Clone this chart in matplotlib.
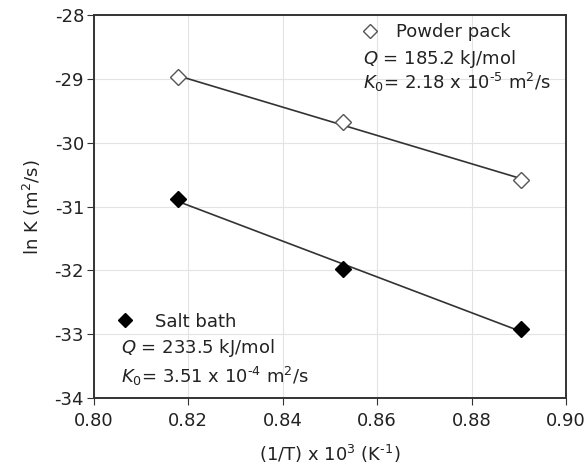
import numpy as np
import matplotlib.pyplot as plt

plt.rcParams['font.family'] = ['DejaVu Sans']
plt.rcParams['axes.unicode_minus'] = False

inv_t = [0.8178, 0.8527, 0.8904]
powder_lnk = [-28.97, -29.68, -30.58]
salt_lnk = [-30.88, -31.97, -32.92]

fig = plt.figure(figsize=(5.86, 4.75), dpi=100)
ax = fig.add_axes([0.160, 0.162, 0.806, 0.806])

for y, face in [(powder_lnk, 'white'), (salt_lnk, 'black')]:
    k, b = np.polyfit(inv_t, y, 1)
    xs = np.array([inv_t[0], inv_t[-1]])
    ax.plot(xs, k * xs + b, color='#333333', lw=1.2, zorder=2)
    ax.plot(inv_t, y, 'D', ms=8, mfc=face, mec='black' if face == 'black' else '#555555',
            mew=1.0, ls='none', zorder=3)

ax.set_xlim(0.80, 0.90)
ax.set_ylim(-34, -28)
ax.set_xticks(np.arange(0.80, 0.9001, 0.02))
ax.set_xticklabels(['0.80', '0.82', '0.84', '0.86', '0.88', '0.90'])
ax.set_yticks(range(-34, -27))
ax.grid(True, color='#e3e3e3', lw=0.8)
ax.set_axisbelow(True)
ax.tick_params(labelsize=13, direction='out', length=5, color='#333333', colors='#222222')
ax.tick_params(axis='x', pad=5)
ax.tick_params(axis='y', pad=2)
for s in ax.spines.values():
    s.set_color('#333333')
    s.set_linewidth(1.4)

ax.set_xlabel('(1/T) x 10$^3$ (K$^{\\text{-}1}$)', fontsize=13, labelpad=9, color='#222222')
ax.set_ylabel('ln K (m$^2$/s)', fontsize=13, labelpad=8, color='#222222')

fs = 13
# powder pack annotation
ax.plot([0.8585], [-28.245], 'D', ms=7, mfc='white', mec='#555555', mew=1.0, clip_on=False)
ax.text(0.8640, -28.345, 'Powder pack', fontsize=fs, va='baseline', color='#222222')
ax.text(0.8570, -28.76, '$Q$ = 185.2 kJ/mol', fontsize=fs, va='baseline', color='#222222')
ax.text(0.8570, -29.16, '$K_0$= 2.18 x 10$^{\\text{-}5}$ m$^2$/s', fontsize=fs, va='baseline', color='#222222')

# salt bath annotation
ax.plot([0.8066], [-32.778], 'D', ms=7, mfc='black', mec='black', mew=1.0)
ax.text(0.8129, -32.888, 'Salt bath', fontsize=fs, va='baseline', color='#222222')
ax.text(0.8057, -33.30, '$Q$ = 233.5 kJ/mol', fontsize=fs, va='baseline', color='#222222')
ax.text(0.8057, -33.76, '$K_0$= 3.51 x 10$^{\\text{-}4}$ m$^2$/s', fontsize=fs, va='baseline', color='#222222')

fig.savefig('out.png', dpi=100)
